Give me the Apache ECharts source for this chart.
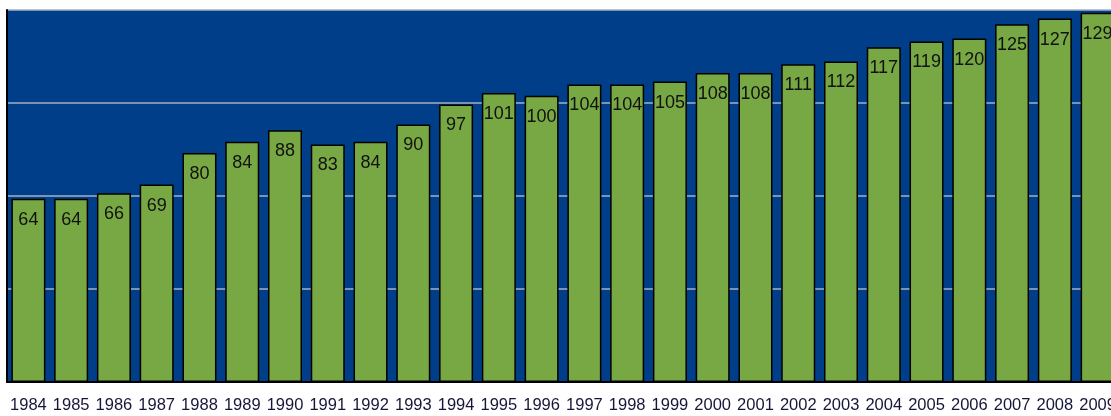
<!DOCTYPE html>
<html>
<head>
<meta charset="utf-8">
<script src="https://cdn.jsdelivr.net/npm/echarts@6/dist/echarts.min.js"></script>
<style>
html,body{margin:0;padding:0;background:#fff;overflow:hidden;width:1111px;height:416px;}
#chart{width:1125px;height:416px;}
</style>
</head>
<body>
<div id="chart"></div>
<script>
var years = ['1984','1985','1986','1987','1988','1989','1990','1991','1992','1993','1994','1995','1996','1997','1998','1999','2000','2001','2002','2003','2004','2005','2006','2007','2008','2009'];
var values = [64,64,66,69,80,84,88,83,84,90,97,101,100,104,104,105,108,108,111,112,117,119,120,125,127,129];

var chart = echarts.init(document.getElementById('chart'), null, {renderer:'canvas'});
chart.setOption({
  animation:false,
  backgroundColor:'#ffffff',
  grid:{left:7, top:10, width:1112, height:372, show:true, backgroundColor:'#003e8a', borderWidth:0},
  xAxis:{
    type:'category', data:years,
    axisLine:{show:true, lineStyle:{color:'#000', width:2}},
    axisTick:{show:false},
    axisLabel:{interval:0, fontSize:16.5, color:'#16163a', fontFamily:'Liberation Sans', margin:15}
  },
  yAxis:{
    type:'value', min:0, max:130, interval:32.5,
    axisLine:{show:true, lineStyle:{color:'#000', width:2}},
    axisTick:{show:false},
    axisLabel:{show:false},
    splitLine:{show:true, lineStyle:{color:'#a3b1c6', width:1.5}}
  },
  series:[{
    type:'bar', data:values, barWidth:34,
    itemStyle:{color:'#78a843', borderColor:'#000', borderWidth:1.5},
    label:{show:true, position:'insideTop', distance:12, color:'#111', fontSize:18, fontFamily:'Liberation Sans'}
  }]
});
</script>
</body>
</html>
